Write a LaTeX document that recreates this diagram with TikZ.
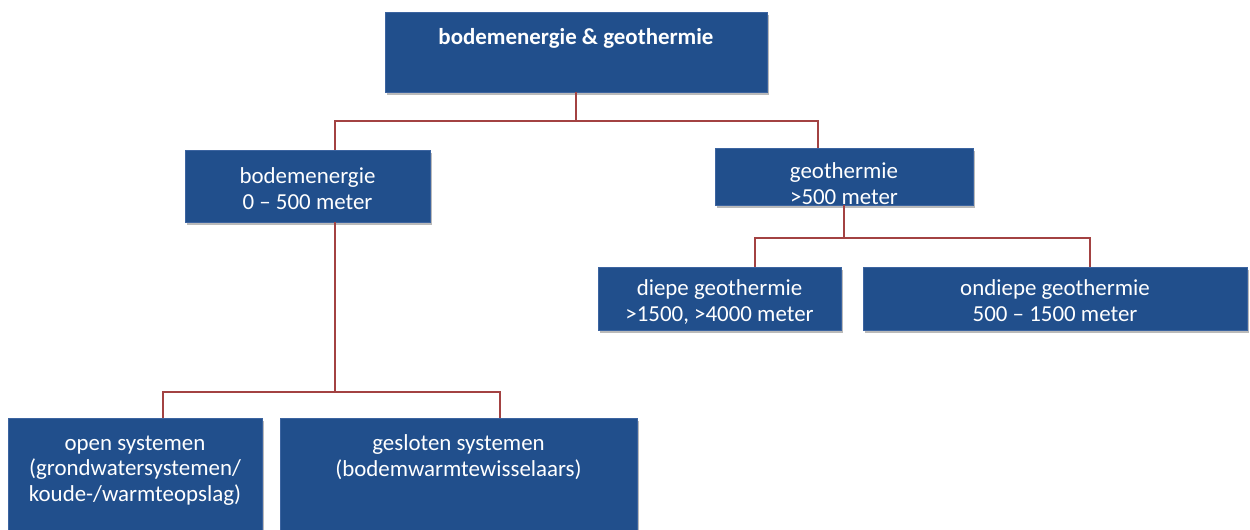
\documentclass[tikz,border=0pt]{standalone}
\usepackage{fontspec}
\setmainfont{Carlito}
\usetikzlibrary{shadows}
\definecolor{boxblue}{RGB}{33,79,140}
\definecolor{boxedge}{RGB}{60,100,160}
\definecolor{connred}{RGB}{163,66,66}
\tikzset{
  box/.style={draw=boxedge, line width=0.8bp, fill=boxblue, inner sep=0pt,
    drop shadow={shadow xshift=2bp, shadow yshift=-3bp, opacity=0.45, fill=black!60}},
  txt/.style={text=white, align=center, anchor=north, inner sep=0pt,
    font=\fontsize{23}{25.5}\selectfont},
  conn/.style={draw=connred, line width=2bp}
}
\begin{document}
\begin{tikzpicture}[x=1bp,y=-1bp]
\clip (0,0) rectangle (1250,530);
\fill[white] (0,0) rectangle (1250,530);
% boxes
\node[box, minimum width=382bp, minimum height=80bp] (top) at (576,52) {};
\node[box, minimum width=245bp, minimum height=72bp] (bodem) at (307.5,186) {};
\node[box, minimum width=258bp, minimum height=57bp] (geo) at (844,176.5) {};
\node[box, minimum width=243bp, minimum height=63bp] (diepe) at (719.5,298.5) {};
\node[box, minimum width=384bp, minimum height=63bp] (ondiepe) at (1055,298.5) {};
\node[box, minimum width=254bp, minimum height=125bp] (open) at (135,480.5) {};
\node[box, minimum width=357bp, minimum height=125bp] (gesloten) at (458.5,480.5) {};
% texts
\node[txt, font=\fontsize{23}{25.5}\selectfont\bfseries] (ttop) at ([yshift=-17bp]top.north) {bodemenergie \& geothermie};
\node[txt] (tbodem) at ([yshift=-18bp]bodem.north) {bodemenergie\\0 – 500 meter};
\node[txt] (tgeo) at ([yshift=-15bp]geo.north) {geothermie\\>500 meter};
\node[txt] (tdiepe) at ([yshift=-13bp]diepe.north) {diepe geothermie\\>1500, >4000 meter};
\node[txt] (tondiepe) at ([yshift=-13bp]ondiepe.north) {ondiepe geothermie\\500 – 1500 meter};
\node[txt] (topen) at ([yshift=-18bp]open.north) {open systemen\\(grondwatersystemen/\\koude-/warmteopslag)};
\node[txt] (tgesloten) at ([yshift=-17bp]gesloten.north) {gesloten systemen\\(bodemwarmtewisselaars)};
% connectors
\draw[conn] (top.south) -- ++(0,29) coordinate (j1);
\draw[conn] ([xshift=150bp]bodem.north west) |- (j1) -| ([xshift=103bp]geo.north west);
\draw[conn] (geo.south) -- ++(0,33) coordinate (j2);
\draw[conn] ([xshift=157bp]diepe.north west) |- (j2) -| ([xshift=227bp]ondiepe.north west);
\draw[conn] ([xshift=150bp]bodem.south west) -- ++(0,170) coordinate (j3);
\draw[conn] ([xshift=155bp]open.north west) |- (j3) -| ([xshift=220bp]gesloten.north west);
\end{tikzpicture}
\end{document}
